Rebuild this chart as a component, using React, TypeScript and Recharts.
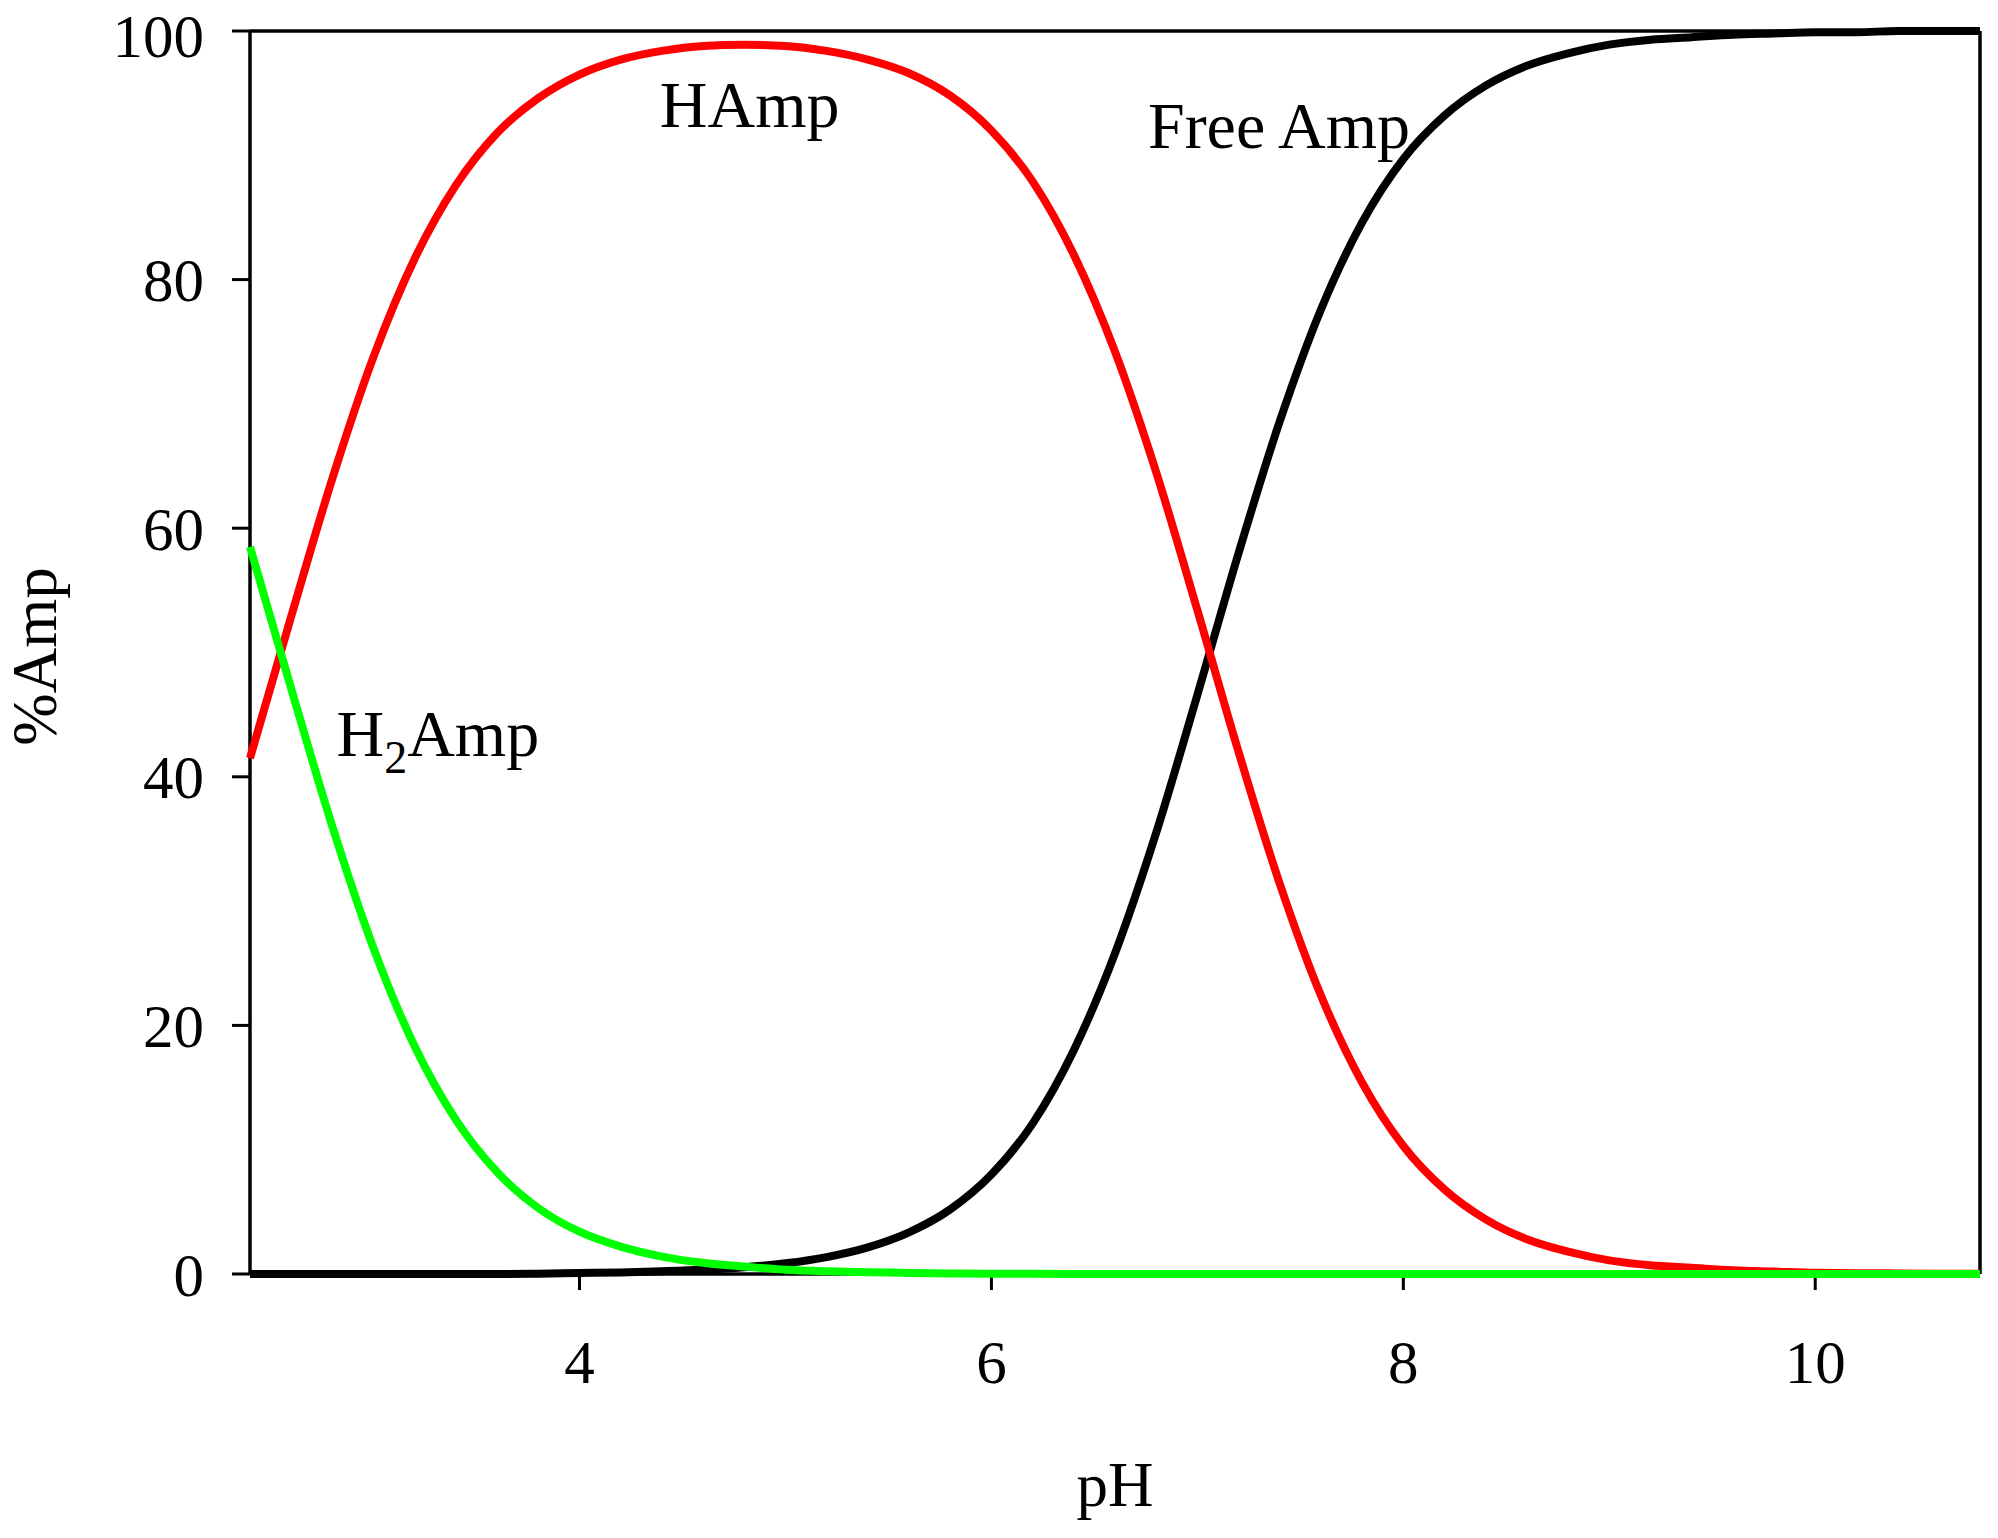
import React from 'react';
import { LineChart, Line, XAxis, YAxis, ReferenceLine, ReferenceDot } from 'recharts';

const phValues = [2.4, 2.6, 2.8, 3.0, 3.2, 3.4, 3.6, 3.8, 4.0, 4.2, 4.4, 4.6, 4.8, 5.0, 5.2, 5.4, 5.6, 5.8, 6.0, 6.2, 6.4, 6.6, 6.8, 7.0, 7.2, 7.4, 7.6, 7.8, 8.0, 8.2, 8.4, 8.6, 8.8, 9.0, 9.2, 9.4, 9.6, 9.8, 10.0, 10.2, 10.4, 10.6, 10.8];

const h2AmpValues = [58.5, 47.1, 36.0, 26.2, 18.3, 12.4, 8.2, 5.3, 3.4, 2.2, 1.4, 0.9, 0.6, 0.35, 0.22, 0.14, 0.09, 0.05, 0.03, 0.02, 0.01, 0, 0, 0, 0, 0, 0, 0, 0, 0, 0, 0, 0, 0, 0, 0, 0, 0, 0, 0, 0, 0, 0];

const hAmpValues = [41.5, 52.9, 64.0, 73.8, 81.7, 87.6, 91.8, 94.6, 96.5, 97.7, 98.4, 98.8, 98.9, 98.8, 98.4, 97.7, 96.6, 94.8, 92.0, 87.9, 82.0, 74.2, 64.5, 53.4, 42.0, 31.4, 22.4, 15.4, 10.3, 6.8, 4.4, 2.8, 1.8, 1.1, 0.7, 0.5, 0.3, 0.2, 0.1, 0.07, 0.05, 0.03, 0.02];

const freeAmpValues = [0, 0, 0, 0, 0, 0, 0, 0.03, 0.08, 0.13, 0.22, 0.34, 0.54, 0.86, 1.36, 2.14, 3.35, 5.2, 8.0, 12.1, 18.0, 25.8, 35.5, 46.6, 58.0, 68.6, 77.6, 84.6, 89.7, 93.2, 95.6, 97.2, 98.2, 98.9, 99.3, 99.5, 99.7, 99.8, 99.9, 99.9, 100, 100, 100];

const xTicks = [4, 6, 8, 10];
const yTicks = [0, 20, 40, 60, 80, 100];
const xDomain = [2.4, 10.8];
const yDomain = [0, 100];

const annotations = [
  { key: 'hamp', x: 4.39, y: 92.3, text: 'HAmp' },
  { key: 'free', x: 6.76, y: 90.6, text: 'Free Amp' },
  { key: 'h2amp', x: 2.82, y: 41.7, text: 'H2Amp' },
];

const data = phValues.map((ph, i) => ({
  pH: ph,
  h2Amp: h2AmpValues[i],
  hAmp: hAmpValues[i],
  freeAmp: freeAmpValues[i],
}));

const FONT = '"Liberation Serif", "Times New Roman", serif';

const renderAnnotation = (text: string) => (props: any) => {
  const { cx, cy } = props;
  if (text === 'H2Amp') {
    return (
      <text x={cx} y={cy} fontFamily={FONT} fontSize={66} fill="#000">
        H
        <tspan fontSize={46} dy={17}>2</tspan>
        <tspan dy={-17}>Amp</tspan>
      </text>
    );
  }
  return (
    <text x={cx} y={cy} fontFamily={FONT} fontSize={66} fill="#000">
      {text}
    </text>
  );
};

export default function App() {
  return (
    <div style={{ position: 'absolute', left: 0, top: 0, width: 1998, height: 1538, background: '#fff' }}>
      <LineChart
        width={1998}
        height={1538}
        data={data}
        margin={{ top: 31, right: 18, left: 0, bottom: 0 }}
      >
        <XAxis
          dataKey="pH"
          type="number"
          domain={xDomain}
          ticks={xTicks}
          height={264}
          tickSize={16}
          tickMargin={50}
          axisLine={{ stroke: '#000', strokeWidth: 3.5 }}
          tickLine={{ stroke: '#000', strokeWidth: 3 }}
          tick={{ fontSize: 61, fill: '#000', fontFamily: FONT }}
          label={{
            content: (p: any) => {
              const vb = p.viewBox;
              return (
                <text x={vb.x + vb.width / 2} y={1506} textAnchor="middle" fontFamily={FONT} fontSize={63} fill="#000">
                  pH
                </text>
              );
            },
          }}
        />
        <YAxis
          type="number"
          domain={yDomain}
          ticks={yTicks}
          width={250}
          tickSize={18}
          tickMargin={28}
          axisLine={{ stroke: '#000', strokeWidth: 3.5 }}
          tickLine={{ stroke: '#000', strokeWidth: 3 }}
          tick={{ fontSize: 61, fill: '#000', fontFamily: FONT }}
          label={{
            content: (p: any) => {
              const vb = p.viewBox;
              const cy = vb.y + vb.height / 2 + 4;
              return (
                <text x={56} y={cy} transform={`rotate(-90, 56, ${cy})`} textAnchor="middle" fontFamily={FONT} fontSize={63} fill="#000">
                  %Amp
                </text>
              );
            },
          }}
        />
        <ReferenceLine y={100} stroke="#000" strokeWidth={3.5} />
        <ReferenceLine x={10.8} stroke="#000" strokeWidth={3.5} />
        <Line type="monotone" dataKey="freeAmp" stroke="#000000" strokeWidth={8} dot={false} isAnimationActive={false} zIndex={700} />
        <Line type="monotone" dataKey="hAmp" stroke="#ff0000" strokeWidth={8} dot={false} isAnimationActive={false} zIndex={710} />
        <Line type="monotone" dataKey="h2Amp" stroke="#00ff00" strokeWidth={8} dot={false} isAnimationActive={false} zIndex={720} />
        {annotations.map((a) => (
          <ReferenceDot key={a.key} x={a.x} y={a.y} r={0} shape={renderAnnotation(a.text)} />
        ))}
      </LineChart>
    </div>
  );
}
